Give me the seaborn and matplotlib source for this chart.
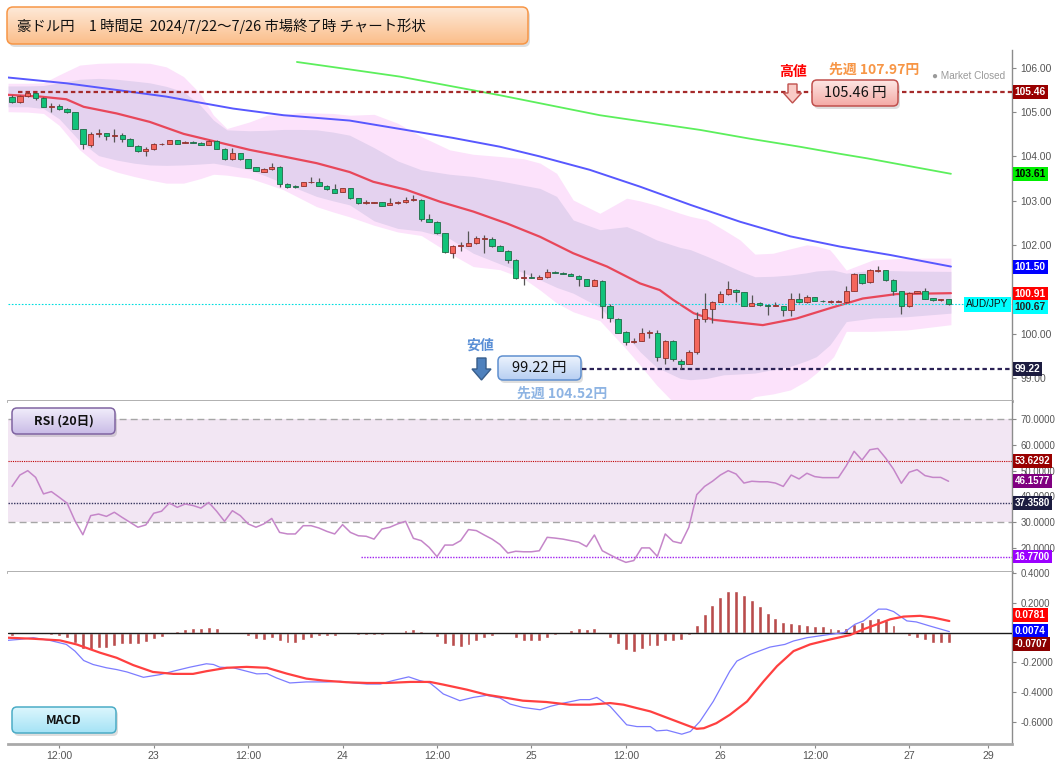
import numpy as np
import matplotlib
matplotlib.use("Agg")
import matplotlib.pyplot as plt
from matplotlib.patches import FancyBboxPatch, Polygon
from matplotlib.colors import LinearSegmentedColormap
from matplotlib.ticker import FixedFormatter
import seaborn as sns

W, H = 1055, 767
JP = ["Noto Sans CJK JP", "DejaVu Sans"]

# ---- hourly candles, 7/22 06:00 .. 7/27 05:00 (JST) ----
opens = [105.35, 105.23, 105.36, 105.42, 105.32, 105.12, 105.13, 105.07, 105.00, 104.62,
         104.27, 104.51, 104.52, 104.46, 104.48, 104.39, 104.24, 104.12, 104.16, 104.28,
         104.29, 104.37, 104.31, 104.33, 104.31, 104.27, 104.36, 104.18, 103.94, 104.07,
         103.94, 103.76, 103.66, 103.71, 103.77, 103.37, 103.33, 103.34, 103.42, 103.42,
         103.34, 103.26, 103.21, 103.28, 103.06, 102.96, 102.96, 102.97, 102.91, 102.95,
         102.97, 103.02, 103.03, 102.59, 102.53, 102.27, 101.82, 101.99, 101.99, 102.04,
         102.15, 102.14, 101.99, 101.88, 101.67, 101.27, 101.28, 101.24, 101.28, 101.39,
         101.38, 101.36, 101.31, 101.23, 101.09, 101.20, 100.62, 100.34, 100.05, 99.83,
         99.85, 100.03, 100.02, 99.45, 99.85, 99.40, 99.33, 99.60, 100.33, 100.57,
         100.72, 100.90, 100.99, 100.94, 100.64, 100.69, 100.66, 100.64, 100.63, 100.54,
         100.79, 100.71, 100.83, 100.75, 100.71, 100.73, 100.71, 100.97, 101.35, 101.17,
         101.43, 101.44, 101.22, 100.97, 100.62, 100.93, 100.97, 100.80, 100.77, 100.78]
highs = [105.38, 105.38, 105.46, 105.44, 105.33, 105.20, 105.19, 105.09, 105.01, 104.63,
         104.56, 104.61, 104.54, 104.62, 104.53, 104.41, 104.25, 104.22, 104.31, 104.30,
         104.38, 104.38, 104.34, 104.34, 104.32, 104.38, 104.37, 104.19, 104.20, 104.08,
         103.95, 103.77, 103.73, 103.85, 103.78, 103.41, 103.35, 103.43, 103.53, 103.52,
         103.35, 103.37, 103.29, 103.29, 103.07, 103.02, 102.98, 102.98, 103.06, 102.99,
         103.09, 103.13, 103.04, 102.71, 102.54, 102.28, 102.00, 102.08, 102.31, 102.20,
         102.23, 102.19, 102.00, 101.89, 101.68, 101.44, 101.37, 101.33, 101.46, 101.43,
         101.39, 101.37, 101.32, 101.24, 101.23, 101.22, 100.68, 100.35, 100.06, 99.90,
         100.14, 100.10, 100.10, 99.87, 99.86, 99.44, 99.64, 100.49, 100.93, 100.75,
         100.98, 101.19, 101.02, 100.95, 100.88, 100.71, 100.67, 100.73, 100.64, 100.92,
         100.92, 100.88, 100.84, 100.77, 100.76, 100.76, 101.09, 101.37, 101.36, 101.46,
         101.54, 101.45, 101.23, 100.98, 100.94, 100.98, 101.04, 100.81, 100.79, 100.79]
lows = [105.21, 105.21, 105.34, 105.28, 105.11, 105.00, 105.05, 104.99, 104.61, 104.18,
        104.22, 104.45, 104.38, 104.32, 104.33, 104.23, 104.11, 104.00, 104.15, 104.25,
        104.28, 104.28, 104.30, 104.30, 104.25, 104.26, 104.16, 103.93, 103.93, 103.93,
        103.73, 103.67, 103.65, 103.70, 103.32, 103.30, 103.30, 103.33, 103.40, 103.33,
        103.25, 103.17, 103.20, 103.05, 102.93, 102.94, 102.95, 102.88, 102.90, 102.93,
        102.96, 103.00, 102.55, 102.52, 102.26, 101.83, 101.71, 101.86, 101.98, 102.03,
        101.82, 101.95, 101.87, 101.61, 101.25, 101.10, 101.26, 101.23, 101.27, 101.37,
        101.35, 101.30, 101.08, 101.08, 101.08, 100.36, 100.28, 100.02, 99.75, 99.80,
        99.84, 99.92, 99.40, 99.33, 99.39, 99.22, 99.32, 99.54, 100.28, 100.24,
        100.71, 100.89, 100.72, 100.63, 100.63, 100.64, 100.43, 100.62, 100.40, 100.41,
        100.70, 100.70, 100.74, 100.72, 100.70, 100.71, 100.70, 100.96, 101.12, 101.16,
        101.40, 101.20, 100.88, 100.45, 100.61, 100.92, 100.78, 100.74, 100.75, 100.66]
closes = [105.23, 105.36, 105.42, 105.32, 105.12, 105.13, 105.07, 105.00, 104.62, 104.28,
          104.51, 104.52, 104.46, 104.49, 104.39, 104.24, 104.12, 104.17, 104.28, 104.29,
          104.37, 104.29, 104.33, 104.31, 104.27, 104.36, 104.17, 103.94, 104.07, 103.94,
          103.74, 103.68, 103.72, 103.77, 103.37, 103.32, 103.32, 103.42, 103.42, 103.34,
          103.26, 103.18, 103.28, 103.06, 102.96, 102.96, 102.96, 102.89, 102.96, 102.98,
          103.02, 103.03, 102.59, 102.53, 102.27, 101.84, 101.99, 101.99, 102.04, 102.16,
          102.16, 101.99, 101.88, 101.67, 101.26, 101.27, 101.27, 101.28, 101.39, 101.38,
          101.36, 101.31, 101.24, 101.09, 101.22, 100.62, 100.36, 100.03, 99.83, 99.85,
          100.03, 100.03, 99.49, 99.85, 99.43, 99.32, 99.60, 100.34, 100.56, 100.72,
          100.90, 101.01, 100.94, 100.64, 100.69, 100.65, 100.64, 100.64, 100.54, 100.79,
          100.71, 100.83, 100.75, 100.74, 100.74, 100.73, 100.97, 101.35, 101.14, 101.44,
          101.45, 101.22, 100.98, 100.62, 100.92, 100.97, 100.79, 100.77, 100.78, 100.67]

# ---- bollinger bands (bar-index positions) ----
bb_x = [-0.5, 2, 4, 6, 8.6, 11, 13.3, 15.5, 17.5, 19.6, 21.8, 23.9, 25.6, 27.3, 30.2, 32.4, 34.5,
        36.6, 38.7, 40.8, 42.9, 46, 49, 52, 55.6, 58.6, 62, 65, 67.1, 69.2, 71.3, 74.7, 78.1,
        79.8, 81.9, 84.9, 86.2, 88.3, 90.4, 92.5, 94.4, 96.7, 98.9, 101.0, 102.2, 103.9, 104.4,
        106.0, 109.4, 113.7, 119.3]
bb_up3 = [105.65, 105.65, 105.66, 105.84, 106.06, 106.10, 106.11, 106.11, 106.10, 106.02, 105.80,
          105.42, 104.93, 104.63, 104.78, 104.93, 104.95, 104.99, 104.98, 104.97, 104.93, 104.95,
          104.75, 104.45, 104.15, 104.05, 104.00, 103.95, 103.85, 103.62, 103.02, 102.72, 103.06,
          103.00, 102.90, 102.72, 102.65, 102.57, 102.35, 102.12, 101.80, 101.82, 101.92, 102.01,
          101.98, 101.90, 101.80, 101.44, 101.67, 101.71, 101.71]
bb_up2 = [105.59, 105.59, 105.60, 105.66, 105.74, 105.76, 105.74, 105.70, 105.66, 105.58, 105.46,
          105.16, 104.82, 104.60, 104.58, 104.59, 104.61, 104.61, 104.60, 104.55, 104.48, 104.20,
          103.90, 103.70, 103.60, 103.55, 103.45, 103.35, 103.28, 103.10, 102.57, 102.35, 102.42,
          102.30, 102.12, 101.95, 101.90, 101.75, 101.59, 101.42, 101.29, 101.30, 101.33, 101.38,
          101.42, 101.44, 101.44, 101.37, 101.44, 101.42, 101.41]
bb_lo2 = [105.12, 105.12, 105.08, 104.85, 104.35, 104.02, 103.92, 103.85, 103.81, 103.80, 103.81,
          103.83, 103.85, 103.80, 103.70, 103.55, 103.40, 103.25, 103.10, 103.00, 102.91, 102.55,
          102.38, 102.32, 102.15, 101.82, 101.58, 101.38, 101.22, 101.05, 100.92, 100.60, 99.95,
          99.60, 99.25, 99.00, 98.97, 99.00, 99.08, 99.10, 99.12, 99.20, 99.27, 99.40, 99.49,
          99.75, 99.87, 100.28, 100.36, 100.39, 100.47]
bb_lo3 = [105.01, 105.00, 104.97, 104.70, 104.15, 103.80, 103.65, 103.55, 103.47, 103.40, 103.40,
          103.50, 103.60, 103.58, 103.51, 103.38, 103.25, 103.06, 102.87, 102.75, 102.64, 102.45,
          102.30, 102.22, 101.82, 101.52, 101.45, 101.25, 100.99, 100.70, 100.50, 100.30, 99.65,
          99.30, 98.85, 98.30, 98.15, 98.10, 98.20, 98.40, 98.59, 98.65, 98.74, 98.95, 99.12,
          99.40, 99.49, 100.06, 100.06, 100.09, 100.21]

# ---- moving averages ----
ma20_x = [-0.5, 3.6, 6.9, 9.1, 13.3, 17.5, 21.8, 26.0, 30.2, 34.5, 38.7, 42.9, 45.9, 50.1, 54.4,
          58.6, 62.9, 67.1, 71.3, 75.6, 79.8, 82.3, 84.0, 86.6, 89.1, 93.3, 95.4, 99.7, 103.9,
          106.0, 108.1, 112.4, 119.3]
ma20_y = [105.39, 105.35, 105.29, 105.12, 104.97, 104.78, 104.51, 104.33, 104.15, 104.00, 103.85,
          103.65, 103.43, 103.25, 102.98, 102.76, 102.49, 102.19, 101.82, 101.52, 101.14, 100.99,
          100.77, 100.47, 100.32, 100.24, 100.20, 100.35, 100.58, 100.69, 100.80, 100.90, 100.92]
ma75_x = [-0.5, 6.9, 13.3, 19.6, 28.1, 34.5, 42.9, 50, 56, 62, 67.1, 73.4, 79.8, 86.2, 92.5, 98.9,
          105.2, 111.6, 119.3]
ma75_y = [105.78, 105.65, 105.50, 105.35, 105.08, 104.93, 104.81, 104.60, 104.42, 104.22, 104.00,
          103.70, 103.32, 102.91, 102.53, 102.20, 101.97, 101.78, 101.52]
ma200_x = [36.2, 43, 49.3, 62, 74.7, 87.4, 93.8, 100.1, 105.2, 108.6, 119.3]
ma200_y = [106.13, 105.96, 105.80, 105.38, 104.93, 104.60, 104.40, 104.22, 104.06, 103.96, 103.61]

week_high, week_low, last_price = 105.46, 99.22, 100.67

# ---- RSI(20) ----
rsi = [43.9, 48.3, 50.0, 47.4, 41.0, 41.9, 39.7, 37.4, 30.6, 25.2, 32.6, 33.2, 32.3, 33.9, 31.9,
       30.0, 28.1, 29.0, 33.5, 34.3, 37.5, 35.8, 37.1, 36.5, 35.5, 37.7, 34.3, 30.4, 34.5, 32.6,
       29.4, 28.1, 29.4, 31.5, 26.1, 25.5, 25.5, 28.7, 28.7, 27.8, 26.5, 25.5, 29.1, 26.1, 24.8,
       24.6, 23.5, 27.4, 28.1, 29.4, 30.4, 23.8, 22.9, 20.3, 16.7, 21.2, 21.2, 22.9, 27.2, 26.8,
       25.1, 23.5, 21.4, 18.1, 18.8, 18.6, 18.6, 19.0, 24.2, 23.9, 23.5, 22.9, 22.3, 20.6, 25.1,
       19.0, 17.4, 15.8, 14.5, 15.2, 20.1, 20.1, 16.8, 25.5, 22.6, 21.9, 28.1, 40.7, 43.9, 45.9,
       48.3, 50.0, 48.7, 45.2, 45.9, 45.7, 45.7, 45.2, 43.9, 48.3, 46.8, 49.0, 47.7, 47.3, 47.3,
       47.3, 51.9, 57.5, 54.1, 58.1, 58.6, 54.9, 50.6, 45.1, 49.4, 50.4, 48.1, 47.4, 47.4, 45.9]
rsi_levels = [53.6292, 46.1577, 37.3580, 16.77]

# ---- MACD ----
macd_hist = [-0.023, -0.011, -0.007, -0.005, -0.011, -0.018, -0.023, -0.034, -0.068, -0.113,
             -0.119, -0.101, -0.106, -0.090, -0.079, -0.074, -0.074, -0.063, -0.045, -0.027,
             0.002, 0.011, 0.023, 0.034, 0.034, 0.041, 0.029, 0.007, 0.002, -0.007,
             -0.025, -0.045, -0.050, -0.038, -0.056, -0.068, -0.068, -0.047, -0.038, -0.025,
             -0.020, -0.023, -0.002, -0.009, -0.014, -0.018, -0.016, -0.014, -0.011, -0.005,
             0.016, 0.027, 0.011, -0.002, -0.029, -0.079, -0.090, -0.095, -0.086, -0.056,
             -0.038, -0.020, -0.002, -0.007, -0.034, -0.056, -0.056, -0.056, -0.034, -0.018,
             0.000, 0.016, 0.029, 0.023, 0.034, 0.000, -0.034, -0.079, -0.117, -0.128,
             -0.113, -0.090, -0.090, -0.056, -0.056, -0.052, -0.018, 0.052, 0.128, 0.187,
             0.241, 0.277, 0.282, 0.252, 0.218, 0.176, 0.135, 0.101, 0.070, 0.063,
             0.056, 0.052, 0.045, 0.043, 0.029, 0.023, 0.034, 0.061, 0.072, 0.090,
             0.101, 0.083, 0.050, -0.002, -0.023, -0.034, -0.050, -0.072, -0.072, -0.072]
macd_x = [-0.6, 1.0, 2.7, 4.8, 6.9, 8.0, 9.1, 10.3, 12.0, 13.3, 14.6, 16.7, 18.8, 20.5, 22.6, 24.7,
          25.6, 26.4, 28.1, 29.8, 31.1, 32.4, 33.6, 35.3, 37.4, 40.0, 41.7, 43.4, 45.1, 46.8, 48.4,
          50.4, 51.8, 53.1, 53.9, 54.8, 56.9, 58.6, 60.3, 62.0, 63.3, 64.9, 67.1, 68.4, 70.1, 72.2,
          73.4, 74.3, 76.0, 78.1, 79.4, 81.1, 81.9, 83.2, 85.1, 86.2, 87.4, 89.1, 91.2, 92.1, 93.8,
          96.3, 98.2, 99.3, 101.0, 104.0, 105.7, 107.1, 108.2, 110.1, 111.1, 112.0, 113.7, 114.9,
          116.6, 119.1]
macd_y = [-0.052, -0.045, -0.034, -0.052, -0.079, -0.124, -0.187, -0.214, -0.236, -0.248, -0.264,
          -0.300, -0.282, -0.259, -0.232, -0.209, -0.214, -0.232, -0.236, -0.259, -0.277, -0.275,
          -0.304, -0.338, -0.331, -0.331, -0.327, -0.338, -0.345, -0.345, -0.322, -0.297, -0.322,
          -0.338, -0.372, -0.412, -0.457, -0.435, -0.421, -0.439, -0.480, -0.502, -0.518, -0.495,
          -0.473, -0.450, -0.450, -0.435, -0.495, -0.619, -0.631, -0.631, -0.660, -0.655, -0.682,
          -0.664, -0.597, -0.462, -0.259, -0.191, -0.146, -0.097, -0.079, -0.056, -0.034, -0.011,
          0.000, 0.056, 0.079, 0.158, 0.158, 0.142, 0.079, 0.072, 0.045, 0.007]
signal_x = [-0.6, 2.7, 6.1, 8.2, 11.2, 13.3, 15.4, 17.9, 20.5, 23.0, 24.7, 27.3, 29.8, 32.4, 34.9,
            37.4, 39.6, 42.5, 45.1, 47.6, 50.6, 53.1, 54.8, 57.8, 60.3, 62.9, 64.9, 67.9, 70.9,
            73.4, 76.0, 77.7, 79.4, 81.1, 82.8, 84.5, 86.2, 87.0, 87.9, 89.5, 91.2, 93.4, 95.5,
            97.2, 99.3, 101.4, 104.0, 106.5, 108.2, 109.9, 111.6, 113.3, 115.4, 117.1, 119.1]
signal_y = [-0.034, -0.041, -0.052, -0.079, -0.135, -0.169, -0.218, -0.264, -0.277, -0.277, -0.259,
            -0.236, -0.230, -0.236, -0.275, -0.309, -0.322, -0.333, -0.338, -0.338, -0.331, -0.331,
            -0.349, -0.383, -0.417, -0.439, -0.457, -0.466, -0.484, -0.484, -0.473, -0.484, -0.507,
            -0.529, -0.563, -0.597, -0.631, -0.646, -0.642, -0.608, -0.552, -0.462, -0.327, -0.225,
            -0.124, -0.079, -0.045, -0.016, 0.023, 0.056, 0.090, 0.108, 0.113, 0.101, 0.078]

tick_pos = [6, 18, 30, 42, 54, 66, 78, 90, 102, 114, 124]
tick_labels = ["12:00", "23", "12:00", "24", "12:00", "25", "12:00", "26", "12:00", "27", "29"]
# right-axis labels; the ones hidden under a value tag in the original are left blank
price_ticks = [99, 100, 101, 102, 103, 104, 105, 106]
price_labels = ["99.00", "100.00", "", "102.00", "103.00", "104.00", "105.00", "106.00"]
rsi_ticks = [20, 30, 40, 50, 60, 70]
rsi_labels = ["20.0000", "30.0000", "40.0000", "50.0000", "60.0000", "70.0000"]
macd_ticks = [-0.6, -0.4, -0.2, 0, 0.2, 0.4]
macd_labels = ["-0.6000", "-0.4000", "-0.2000", "", "0.2000", "0.4000"]

sns.set_theme(style="white")
plt.rcParams["font.family"] = ["Liberation Sans", "Noto Sans CJK JP", "DejaVu Sans"]
plt.rcParams["axes.unicode_minus"] = False

fig = plt.figure(figsize=(W / 100, H / 100), dpi=100)
fig.patch.set_facecolor("white")


def panel(top, bottom):
    return fig.add_axes([8 / W, 1 - bottom / H, 1004 / W, (bottom - top) / H])


ax = panel(50, 401)
ax_rsi = panel(401, 572)
ax_macd = panel(572, 744)
X_RIGHT = 127.06

for a, size in ((ax, 7.4), (ax_rsi, 6.9), (ax_macd, 6.9)):
    a.set_xlim(-0.51, X_RIGHT)
    a.set_facecolor("white")
    a.grid(False)
    a.spines["top"].set_visible(False)
    a.spines["left"].set_visible(False)
    a.spines["bottom"].set_color("#a9a9a9")
    a.spines["bottom"].set_linewidth(2)
    a.spines["right"].set_color("#8c8c8c")
    a.spines["right"].set_linewidth(1)
    a.yaxis.tick_right()
    a.tick_params(axis="y", right=True, left=False, direction="out", length=3, width=0.8,
                  color="#888888", labelsize=size, labelcolor="#555555", pad=3)

# ---------------- price panel ----------------
idx = np.arange(len(opens))
o, h, l, c = map(np.array, (opens, highs, lows, closes))
ax.fill_between(bb_x, bb_lo3, bb_up3, color="#fce2fb", lw=0, zorder=1)
ax.fill_between(bb_x, bb_lo2, bb_up2, color="#e4d2ef", lw=0, zorder=1.1)
sns.lineplot(x=ma200_x, y=ma200_y, ax=ax, color="#5cef5c", lw=1.3, zorder=2)
sns.lineplot(x=ma75_x, y=ma75_y, ax=ax, color="#5858ff", lw=1.4, zorder=2)
sns.lineplot(x=ma20_x, y=ma20_y, ax=ax, color="#e8475a", lw=1.6, zorder=2.5)

ax.plot([0.8, X_RIGHT], [week_high] * 2, color="#a52a2a", lw=1.6, ls=(0, (2, 1.4)), zorder=3)
ax.plot([72.4, X_RIGHT], [week_low] * 2, color="#2b2255", lw=1.6, ls=(0, (2, 1.4)), zorder=3)
ax.axhline(last_price, color="#00dede", lw=0.8, ls=(0, (1.5, 1.5)), zorder=3)

up = c >= o
ax.vlines(idx, l, h, color="#555555", lw=0.9, zorder=4)
ax.bar(idx, np.maximum(np.abs(c - o), 0.012), bottom=np.minimum(o, c), width=0.68,
       color=np.where(up, "#f4665c", "#12c27a"), edgecolor=np.where(up, "#8e2f2a", "#1d6b45"),
       linewidth=0.6, zorder=5)

ax.set_ylim(98.49, 106.40)
ax.set_yticks(price_ticks)
ax.yaxis.set_major_formatter(FixedFormatter(price_labels))
ax.set_xticks([])

# ---------------- RSI panel ----------------
ax_rsi.axhspan(30, 70, color="#f2e6f3", lw=0, zorder=0)
ax_rsi.axhline(70, color="#a6a6a6", lw=1, ls=(0, (5, 3)))
ax_rsi.axhline(30, color="#a6a6a6", lw=1, ls=(0, (5, 3)))
ax_rsi.axhline(rsi_levels[0], color="#c00000", lw=0.8, ls=(0, (1, 1)))
ax_rsi.axhline(rsi_levels[2], color="#33335c", lw=1, ls=(0, (1, 1)))
ax_rsi.plot([44.4, X_RIGHT], [rsi_levels[3]] * 2, color="#a020f0", lw=1, ls=(0, (1, 1)))
sns.lineplot(x=idx, y=rsi, ax=ax_rsi, color="#c586c9", lw=1.1, zorder=3)
ax_rsi.set_ylim(10.77, 76.97)
ax_rsi.set_yticks(rsi_ticks)
ax_rsi.yaxis.set_major_formatter(FixedFormatter(rsi_labels))
ax_rsi.set_xticks([])

# ---------------- MACD panel ----------------
ax_macd.bar(idx, macd_hist, width=0.5, color="#b94c4c", zorder=2)
ax_macd.axhline(0, color="#1a1a1a", lw=1, zorder=3)
sns.lineplot(x=macd_x, y=macd_y, ax=ax_macd, color="#7c7cff", lw=0.9, zorder=4)
sns.lineplot(x=signal_x, y=signal_y, ax=ax_macd, color="#ff4040", lw=1.6, zorder=4)
ax_macd.set_ylim(-0.748, 0.4074)
ax_macd.set_yticks(macd_ticks)
ax_macd.yaxis.set_major_formatter(FixedFormatter(macd_labels))
ax_macd.set_xticks(tick_pos)
ax_macd.set_xticklabels(tick_labels)
ax_macd.tick_params(axis="x", bottom=True, direction="out", length=3, width=0.8, color="#888888",
                    labelsize=7.6, labelcolor="#555555", pad=2)

for a in (ax, ax_rsi, ax_macd):
    a.set_xlabel("")
    a.set_ylabel("")


def tag(a, y, text, fc, tc="white", nudge=0, size=7.4):
    a.annotate(text, xy=(1.0, y), xycoords=("axes fraction", "data"),
               xytext=(2.0, -nudge / 1.389), textcoords="offset points",
               ha="left", va="center", fontsize=size, fontweight="bold", color=tc, zorder=10,
               bbox=dict(boxstyle="square,pad=0.2", fc=fc, ec="none"))


tag(ax, week_high, "105.46", "#990000")
tag(ax, 103.61, "103.61", "#00ee00", "black")
tag(ax, 101.50, "101.50", "#0000ff")
tag(ax, 100.91, "100.91", "#ff0000")
tag(ax, last_price, "100.67", "#00ffff", "#222222", nudge=3)
tag(ax, week_low, "99.22", "#1c1c40")
ax.annotate("AUD/JPY", xy=(1.0, last_price), xycoords=("axes fraction", "data"),
            xytext=(-2.5, 0), textcoords="offset points", ha="right", va="center",
            fontsize=7.2, color="#111111", zorder=10,
            bbox=dict(boxstyle="square,pad=0.25", fc="#00ffff", ec="none"))

tag(ax_rsi, rsi_levels[0], "53.6292", "#990000", size=7.0)
tag(ax_rsi, rsi_levels[1], "46.1577", "#800080", size=7.0)
tag(ax_rsi, rsi_levels[2], "37.3580", "#1c1c40", size=7.0)
tag(ax_rsi, rsi_levels[3], "16.7700", "#9b00ff", size=7.0)

tag(ax_macd, 0.0781, "0.0781", "#ff0000", nudge=-6, size=7.2)
tag(ax_macd, 0.0074, "0.0074", "#0000ff", nudge=-1, size=7.2)
tag(ax_macd, -0.0707, "-0.0707", "#8b0000", nudge=1, size=7.0)

# ---------------- annotation layer (pixel coords) ----------------
ov = fig.add_axes([0, 0, 1, 1])
ov.set_xlim(0, W)
ov.set_ylim(H, 0)
ov.set_autoscale_on(False)
ov.axis("off")


def glossy_box(x0, y0, x1, y1, c_top, c_bot, edge, r=5):
    style = f"round,pad=0,rounding_size={r}"
    ov.add_patch(FancyBboxPatch((x0 + 2, y0 + 3), x1 - x0, y1 - y0, boxstyle=style,
                                fc="black", ec="none", alpha=0.13, zorder=1))
    frame = FancyBboxPatch((x0, y0), x1 - x0, y1 - y0, boxstyle=style,
                           fc="none", ec=edge, lw=1.1, zorder=3)
    ov.add_patch(frame)
    cmap = LinearSegmentedColormap.from_list("grad", [c_top, c_bot])
    im = ov.imshow(np.linspace(0, 1, 64).reshape(-1, 1), cmap=cmap, extent=[x0, x1, y1, y0],
                   aspect="auto", interpolation="bilinear", zorder=2)
    im.set_clip_path(frame)


glossy_box(7, 7, 528, 44, "#fee9d8", "#fbbe8a", "#f79646", r=6)
ov.text(17, 26, "豪ドル円　1 時間足  2024/7/22～7/26 市場終了時 チャート形状", family=JP,
        fontsize=10.4, color="#111111", ha="left", va="center", zorder=5)

glossy_box(812, 80, 898, 106, "#fde6e4", "#f4aaa5", "#c0504d", r=5)
ov.text(855, 93, "105.46 円", family=JP, fontsize=10.5, color="#111111",
        ha="center", va="center", zorder=5)
ov.text(793, 72, "高値", family=JP, fontsize=10, fontweight="bold", color="#ff0000",
        ha="center", va="center", zorder=5)
ov.text(874, 70, "先週 107.97円", family=JP, fontsize=10, fontweight="bold", color="#f79646",
        ha="center", va="center", zorder=5)
ov.text(969, 76, "● Market Closed", fontsize=7.2, color="#9a9a9a", ha="center", va="center", zorder=5)
ov.add_patch(Polygon([(788, 84), (797, 84), (797, 93), (801.5, 93), (792.5, 103), (783.5, 93),
                      (788, 93)], closed=True, fc="#f9cbc6", ec="#c0504d", lw=1, zorder=4))

glossy_box(498, 356, 581, 380, "#ecf3fd", "#b7cff2", "#5f8fcf", r=5)
ov.text(539.5, 368, "99.22 円", family=JP, fontsize=10.5, color="#111111",
        ha="center", va="center", zorder=5)
ov.text(480, 346, "安値", family=JP, fontsize=10, fontweight="bold", color="#5a8fd6",
        ha="center", va="center", zorder=5)
ov.text(562, 394, "先週 104.52円", family=JP, fontsize=10, fontweight="bold", color="#8eb4e3",
        ha="center", va="center", zorder=5)
ov.add_patch(Polygon([(477, 358), (486, 358), (486, 369), (491, 369), (481.5, 380), (472, 369),
                      (477, 369)], closed=True, fc="#4f81bd", ec="#385d8a", lw=1, zorder=4))

glossy_box(12, 408, 115, 434, "#f1edfb", "#c9bbe6", "#8064a2", r=5)
ov.text(63.5, 421, "RSI (20日)", family=JP, fontsize=9, fontweight="bold", color="#111111",
        ha="center", va="center", zorder=5)
glossy_box(12, 707, 116, 733, "#dcf6fd", "#a5e3f6", "#4bacc6", r=5)
ov.text(64, 720, "MACD", family=JP, fontsize=9, fontweight="bold", color="#111111",
        ha="center", va="center", zorder=5)

fig.savefig("out.png", dpi=100)
